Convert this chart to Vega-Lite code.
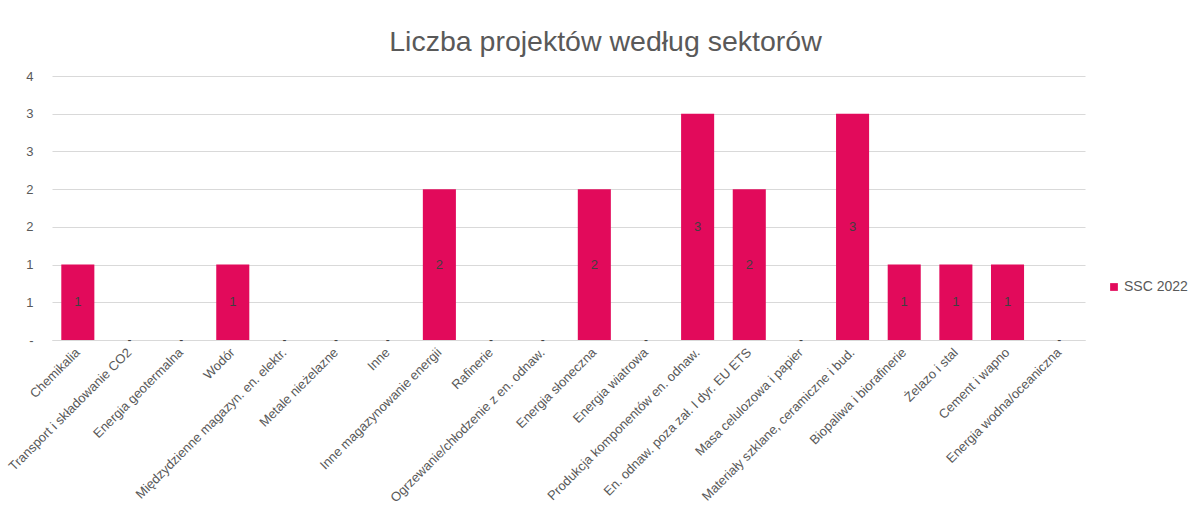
{
  "$schema": "https://vega.github.io/schema/vega-lite/v6.json",
  "autosize": {"type": "none"},
  "width": 1033,
  "height": 264,
  "padding": {"left": 52, "top": 76, "right": 107, "bottom": 169},
  "background": "white",
  "config": {
    "font": "Liberation Sans",
    "view": {"stroke": null},
    "axis": {"labelColor": "#595959", "labelFont": "Liberation Sans", "labelFontSize": 13}
  },
  "title": {
    "text": "Liczba projektów według sektorów",
    "font": "Liberation Sans",
    "fontSize": 28.5,
    "fontWeight": "normal",
    "color": "#595959",
    "anchor": "middle",
    "dx": 37,
    "offset": 14
  },
  "data": {
    "values": [
      {"sektor": "Chemikalia", "liczba": 1, "seria": "SSC 2022"},
      {"sektor": "Transport i składowanie CO2", "liczba": 0, "seria": "SSC 2022"},
      {"sektor": "Energia geotermalna", "liczba": 0, "seria": "SSC 2022"},
      {"sektor": "Wodór", "liczba": 1, "seria": "SSC 2022"},
      {"sektor": "Międzydzienne magazyn. en. elektr.", "liczba": 0, "seria": "SSC 2022"},
      {"sektor": "Metale nieżelazne", "liczba": 0, "seria": "SSC 2022"},
      {"sektor": "Inne", "liczba": 0, "seria": "SSC 2022"},
      {"sektor": "Inne magazynowanie energii", "liczba": 2, "seria": "SSC 2022"},
      {"sektor": "Rafinerie", "liczba": 0, "seria": "SSC 2022"},
      {"sektor": "Ogrzewanie/chłodzenie z en. odnaw.", "liczba": 0, "seria": "SSC 2022"},
      {"sektor": "Energia słoneczna", "liczba": 2, "seria": "SSC 2022"},
      {"sektor": "Energia wiatrowa", "liczba": 0, "seria": "SSC 2022"},
      {"sektor": "Produkcja komponentów en. odnaw.", "liczba": 3, "seria": "SSC 2022"},
      {"sektor": "En. odnaw. poza zał. I dyr. EU ETS", "liczba": 2, "seria": "SSC 2022"},
      {"sektor": "Masa celulozowa i papier", "liczba": 0, "seria": "SSC 2022"},
      {"sektor": "Materiały szklane, ceramiczne i bud.", "liczba": 3, "seria": "SSC 2022"},
      {"sektor": "Biopaliwa i biorafinerie", "liczba": 1, "seria": "SSC 2022"},
      {"sektor": "Żelazo i stal", "liczba": 1, "seria": "SSC 2022"},
      {"sektor": "Cement i wapno", "liczba": 1, "seria": "SSC 2022"},
      {"sektor": "Energia wodna/oceaniczna", "liczba": 0, "seria": "SSC 2022"}
    ]
  },
  "encoding": {
    "x": {
      "field": "sektor",
      "type": "nominal",
      "sort": null,
      "scale": {"paddingInner": 0.36, "paddingOuter": 0.18},
      "axis": {
        "title": null,
        "labelAngle": -45,
        "labelAlign": "right",
        "labelBaseline": "middle",
        "labelPadding": 10,
        "ticks": false,
        "domainColor": "#d9d9d9",
        "domainWidth": 1,
        "labelLimit": 400,
        "labelOverlap": false
      }
    }
  },
  "layer": [
    {
      "mark": {"type": "bar"},
      "encoding": {
        "y": {
          "field": "liczba",
          "type": "quantitative",
          "scale": {"domain": [0, 3.5], "nice": false},
          "axis": {
            "title": null,
            "values": [0, 0.5, 1, 1.5, 2, 2.5, 3, 3.5],
            "labelExpr": "datum.value == 0 ? '-' : format(round(datum.value), 'd')",
            "domain": false,
            "ticks": false,
            "gridColor": "#d9d9d9",
            "gridWidth": 1,
            "labelPadding": 19
          }
        },
        "color": {
          "field": "seria",
          "type": "nominal",
          "scale": {"range": ["#E20A5B"]},
          "legend": {
            "title": null,
            "orient": "none",
            "legendX": 1055,
            "legendY": 204,
            "symbolType": "square",
            "symbolSize": 60,
            "labelFontSize": 14,
            "labelColor": "#595959",
            "labelFont": "Liberation Sans",
            "labelOffset": 3
          }
        }
      }
    },
    {
      "transform": [{"filter": "datum.liczba > 0"}],
      "mark": {"type": "text", "color": "#404040", "fontSize": 13, "baseline": "middle", "font": "Liberation Sans"},
      "encoding": {
        "y": {
          "field": "liczba",
          "type": "quantitative",
          "scale": {"domain": [0, 7], "nice": false},
          "axis": null
        },
        "text": {"field": "liczba", "type": "quantitative", "format": "d"}
      }
    },
    {
      "transform": [{"filter": "datum.liczba == 0"}],
      "mark": {"type": "text", "color": "#404040", "fontSize": 12, "baseline": "middle", "font": "Liberation Sans"},
      "encoding": {
        "y": {"value": 264},
        "text": {"value": "-"}
      }
    }
  ],
  "resolve": {"scale": {"y": "independent"}}
}
